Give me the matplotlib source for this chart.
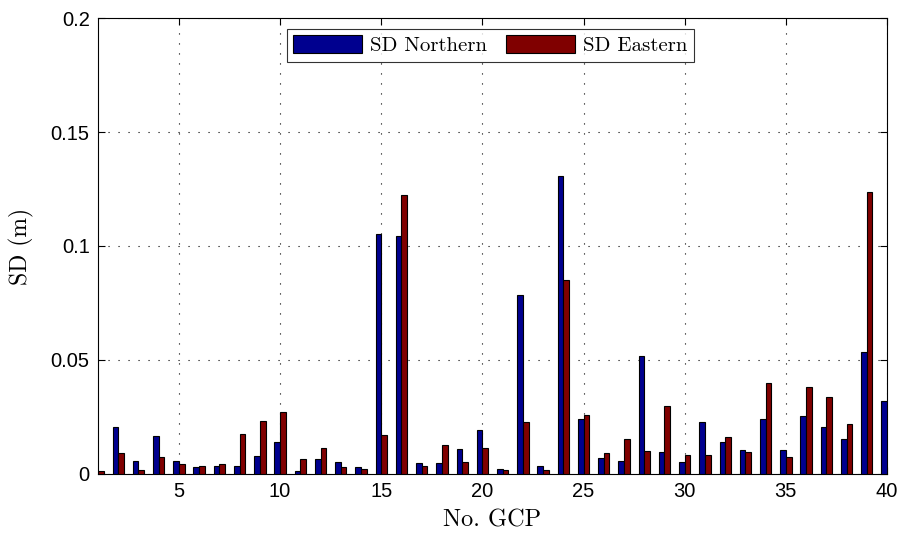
import numpy as np
import matplotlib
matplotlib.use("Agg")
import matplotlib.pyplot as plt

# GCP numbers and standard deviations (m)
gcp = np.arange(1, 41)
sd_north = [np.nan, 0.0204, 0.0055, 0.0168, 0.0055, 0.0029, 0.0037, 0.0037, 0.0080, 0.0142,
            0.0015, 0.0067, 0.0054, 0.0032, 0.1052, 0.1044, 0.0048, 0.0048, 0.0108, 0.0191,
            0.0024, 0.0783, 0.0036, 0.1306, 0.0239, 0.0072, 0.0058, 0.0516, 0.0095, 0.0054,
            0.0230, 0.0139, 0.0104, 0.0239, 0.0104, 0.0253, 0.0205, 0.0154, 0.0534, 0.0318]
sd_east = [0.0015, 0.0092, 0.0016, 0.0076, 0.0044, 0.0036, 0.0045, 0.0177, 0.0233, 0.0270,
           0.0064, 0.0113, 0.0032, 0.0021, 0.0171, 0.1223, 0.0036, 0.0127, 0.0053, 0.0116,
           0.0018, 0.0226, 0.0018, 0.0853, 0.0257, 0.0090, 0.0155, 0.0100, 0.0297, 0.0083,
           0.0085, 0.0163, 0.0095, 0.0397, 0.0075, 0.0380, 0.0336, 0.0220, 0.1236, np.nan]

yticks = [0, 0.05, 0.1, 0.15, 0.2]
ytick_labels = ["0", "0.05", "0.1", "0.15", "0.2"]
xticks = [5, 10, 15, 20, 25, 30, 35, 40]

serif = "cmr10"
tickfont = "Liberation Sans"

fig = plt.figure(figsize=(8.99, 5.36), dpi=100)
ax = fig.add_axes([0.109, 0.1157, 0.8777, 0.8507])

w = 0.28
ax.bar(gcp - w / 2, sd_north, width=w, color="#00008f", edgecolor="black",
       linewidth=0.8, label="SD Northern", zorder=3)
ax.bar(gcp + w / 2, sd_east, width=w, color="#800000", edgecolor="black",
       linewidth=0.8, label="SD Eastern", zorder=3)

ax.set_xlim(1, 40)
ax.set_ylim(0, 0.2)
ax.set_xticks(xticks)
ax.set_yticks(yticks)
ax.set_yticklabels(ytick_labels)
ax.grid(True, linestyle=(0, (1, 8)), color="black", linewidth=0.8)
ax.tick_params(direction="in", top=True, right=True, length=5, width=0.8,
               labelsize=14.5, pad=6)
for lab in ax.get_xticklabels() + ax.get_yticklabels():
    lab.set_fontfamily(tickfont)
for sp in ax.spines.values():
    sp.set_linewidth(0.8)

ax.set_xlabel("No. GCP", fontfamily=serif, fontsize=17.5, labelpad=6)
ax.set_ylabel("SD (m)", fontfamily=serif, fontsize=17, labelpad=12)

leg = ax.legend(loc="upper center", bbox_to_anchor=(0.497, 0.985), ncol=2,
                prop={"family": serif, "size": 15}, frameon=True, fancybox=False,
                edgecolor="black", handlelength=3.3, handleheight=0.95,
                columnspacing=0.9, handletextpad=0.4, borderpad=0.3,
                borderaxespad=0.2)
leg.get_frame().set_linewidth(0.8)

fig.savefig("out.png", dpi=100)
